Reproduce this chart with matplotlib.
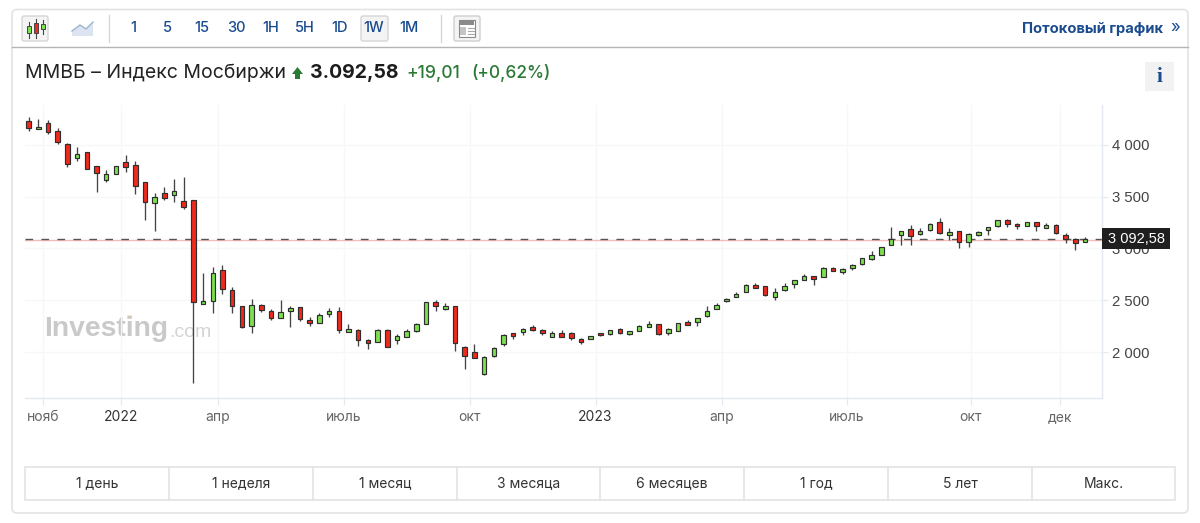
import matplotlib
matplotlib.use("Agg")
import matplotlib.pyplot as plt
from matplotlib.patches import Rectangle, FancyBboxPatch, Polygon

plt.rcParams["font.family"] = ["Inter", "DejaVu Sans"]

###############################################################################
# weekly candles
###############################################################################
opens = [4228, 4151, 4215, 4131, 4013, 3878, 3929, 3795, 3663, 3724,
         3833, 3811, 3641, 3439, 3535, 3519, 3455, 3465, 2465, 2490,
         2792, 2599, 2446, 2253, 2458, 2398, 2327, 2393, 2431, 2310,
         2284, 2369, 2395, 2196, 2216, 2121, 2101, 2216, 2114, 2150,
         2199, 2271, 2480, 2415, 2444, 2052, 1996, 1787, 1957, 2078,
         2180, 2189, 2238, 2216, 2150, 2180, 2180, 2130, 2127, 2186,
         2170, 2221, 2170, 2205, 2240, 2266, 2183, 2205, 2288, 2288,
         2346, 2420, 2490, 2535, 2583, 2647, 2635, 2535, 2596, 2657,
         2699, 2731, 2728, 2811, 2772, 2808, 2846, 2901, 2939, 3035,
         3128, 3192, 3141, 3176, 3253, 3128, 3170, 3058, 3128, 3180,
         3215, 3276, 3240, 3218, 3253, 3202, 3228, 3131, 3090, 3065]
closes = [4163, 4176, 4125, 4029, 3817, 3917, 3772, 3734, 3715, 3795,
          3785, 3606, 3452, 3500, 3487, 3551, 3404, 2481, 2494, 2763,
          2609, 2446, 2240, 2458, 2407, 2327, 2388, 2424, 2317, 2284,
          2359, 2399, 2216, 2225, 2117, 2088, 2216, 2052, 2153, 2202,
          2274, 2480, 2441, 2444, 2088, 1957, 1947, 1951, 2042, 2163,
          2153, 2225, 2212, 2186, 2180, 2150, 2137, 2101, 2153, 2160,
          2208, 2183, 2199, 2256, 2266, 2176, 2221, 2279, 2263, 2327,
          2397, 2458, 2516, 2564, 2647, 2622, 2548, 2577, 2635, 2692,
          2731, 2702, 2814, 2785, 2801, 2840, 2907, 2933, 3013, 3096,
          3167, 3122, 3173, 3240, 3147, 3157, 3061, 3144, 3160, 3205,
          3272, 3237, 3215, 3253, 3215, 3231, 3154, 3093, 3051, 3092.58]
highs = [4269, 4247, 4237, 4163, 4022, 3984, 3936, 3798, 3760, 3798,
         3901, 3843, 3647, 3532, 3593, 3667, 3689, 3468, 2763, 2821,
         2843, 2628, 2449, 2513, 2465, 2417, 2500, 2446, 2435, 2343,
         2379, 2425, 2431, 2271, 2222, 2130, 2222, 2222, 2170, 2225,
         2278, 2484, 2507, 2474, 2448, 2059, 2078, 1960, 2049, 2170,
         2186, 2229, 2258, 2222, 2199, 2209, 2189, 2137, 2157, 2186,
         2212, 2231, 2202, 2263, 2301, 2269, 2231, 2282, 2308, 2330,
         2442, 2474, 2526, 2583, 2654, 2667, 2641, 2619, 2667, 2699,
         2753, 2737, 2817, 2820, 2808, 2846, 2913, 2974, 3019, 3205,
         3173, 3228, 3196, 3244, 3295, 3202, 3173, 3147, 3167, 3212,
         3276, 3285, 3247, 3260, 3256, 3244, 3234, 3154, 3099, 3115]
lows = [4131, 4151, 4106, 4010, 3785, 3846, 3772, 3548, 3641, 3724,
        3740, 3522, 3276, 3170, 3465, 3452, 3385, 1702, 2465, 2375,
        2564, 2375, 2234, 2183, 2385, 2305, 2327, 2240, 2301, 2251,
        2278, 2336, 2180, 2193, 2055, 2032, 2095, 2049, 2081, 2147,
        2196, 2268, 2395, 2408, 2010, 1839, 1944, 1781, 1954, 2059,
        2130, 2166, 2206, 2166, 2147, 2147, 2117, 2081, 2124, 2157,
        2163, 2173, 2167, 2202, 2237, 2163, 2160, 2202, 2260, 2256,
        2343, 2417, 2487, 2532, 2580, 2615, 2542, 2506, 2593, 2622,
        2696, 2647, 2724, 2782, 2750, 2788, 2843, 2891, 2936, 3032,
        3038, 3029, 3128, 3173, 3138, 3083, 3003, 3016, 3125, 3131,
        3212, 3205, 3192, 3215, 3173, 3199, 3144, 3051, 2981, 3058]

lastPrice = 3092.58
yTicks = [2000, 2500, 3000, 3500, 4000]
yTickLabels = ["2 000", "2 500", "3 000", "3 500", "4 000"]
xTicks = [1.5, 9.5, 19.5, 32.5, 45.5, 58.5, 71.5, 84.4, 97.2, 106.4]
xTickLabels = ["нояб", "2022", "апр", "июль", "окт", "2023", "апр", "июль", "окт", "дек"]
resolutions = ["1", "5", "15", "30", "1H", "5H", "1D", "1W", "1M"]
resolutionX = [133, 167, 202, 236, 271, 305, 340, 374, 409]
ranges = ["1 день", "1 неделя", "1 месяц", "3 месяца", "6 месяцев", "1 год", "5 лет", "Макс."]
rangeEdges = [25, 169, 313, 457, 600, 744, 888, 1032, 1175]

BLUE = "#1a4b8f"
GREEN = "#2a7a35"
BORDER = "#e3e3e3"
GRIDC = "#f6f7f8"
AXISC = "#e4e8f0"

fig = plt.figure(figsize=(12, 5.23), dpi=100, facecolor="white")

###############################################################################
# page chrome, drawn in pixel coordinates
###############################################################################
bg = fig.add_axes([0, 0, 1, 1], zorder=0)
bg.set_xlim(0, 1200)
bg.set_ylim(523, 0)
bg.axis("off")

bg.add_patch(FancyBboxPatch((12, 9.5), 1176, 503.5, boxstyle="round,pad=0,rounding_size=5",
                            fc="white", ec=BORDER, lw=1.2))
bg.plot([12, 1188], [47, 47], color="#b5b5b5", lw=1.0)
bg.plot([109, 109], [15, 42], color="#d8d8d8", lw=1.0)
bg.plot([441, 441], [15, 42], color="#d8d8d8", lw=1.0)

# candle button
bg.add_patch(FancyBboxPatch((22, 16), 26, 25, boxstyle="round,pad=0,rounding_size=2",
                            fc="#f4f4f4", ec="#d5d5d5", lw=1.0))
for cx, top, bot, wt, wb, col in [(28.5, 26, 33, 22, 38, "#7de04e"), (36, 23, 33, 19, 38, "#f2281c"),
                                  (43, 24, 29, 20, 34, "#7de04e")]:
    bg.plot([cx, cx], [wt, wb], color="#444444", lw=0.8)
    bg.add_patch(Rectangle((cx - 2, top), 4, bot - top, fc=col, ec="#444444", lw=0.7, zorder=3))

# area button
bg.add_patch(Polygon([(72, 36), (72, 31), (80, 25), (86, 29), (93, 22), (93, 36)],
                     fc="#dbe4f0", ec="none"))
bg.plot([72, 80, 86, 93], [31, 25, 29, 22], color="#9db3cf", lw=1.0)

# resolution buttons
bg.add_patch(FancyBboxPatch((361, 16), 27, 25, boxstyle="round,pad=0,rounding_size=2",
                            fc="#f4f4f4", ec="#d5d5d5", lw=1.0))
for label, x in zip(resolutions, resolutionX):
    bg.text(x, 28.5, label, color=BLUE, fontsize=10.5, fontweight="medium", ha="center", va="center")

# news button
bg.add_patch(FancyBboxPatch((454, 16), 26, 25, boxstyle="round,pad=0,rounding_size=2",
                            fc="#f4f4f4", ec="#cfcfcf", lw=1.0))
bg.add_patch(Rectangle((459, 20), 16, 17, fc="white", ec="#8a8a8a", lw=0.8))
bg.add_patch(Rectangle((460, 21), 14, 4, fc="#8a8a8a", ec="none"))
bg.add_patch(Rectangle((460, 27), 6, 8, fc="#c4c4c4", ec="none"))
for ly in [28, 31, 34]:
    bg.plot([468, 474], [ly, ly], color="#a8a8a8", lw=0.8)

bg.text(1163, 28.5, "Потоковый график", color=BLUE, fontsize=10.6, fontweight="bold", ha="right", va="center")
bg.text(1175, 27.5, "»", color=BLUE, fontsize=12, ha="center", va="center")

# title row
bg.text(25, 73, "ММВБ – Индекс Мосбиржи", color="#222222", fontsize=14, ha="left", va="center")
bg.add_patch(Polygon([(292, 74), (297.5, 67), (303, 74), (300, 74), (300, 79), (295, 79), (295, 74)],
                     fc=GREEN, ec="none"))
bg.text(310, 73, "3.092,58", color="#1c1c1c", fontsize=14, fontweight="bold", ha="left", va="center")
bg.text(406, 73, "+19,01", color=GREEN, fontsize=12.6, fontweight="medium", ha="left", va="center")
bg.text(471, 73, "(+0,62%)", color=GREEN, fontsize=12.4, fontweight="medium", ha="left", va="center")

bg.add_patch(Rectangle((1145, 62), 29, 29, fc="#f2f2f2", ec="none"))
bg.text(1159.5, 76.5, "i", color=BLUE, fontsize=15, fontweight="bold", family="Liberation Serif",
        ha="center", va="center")

# range buttons
bg.add_patch(Rectangle((25, 467), 1150, 33, fc="white", ec=BORDER, lw=1.2))
for i, label in enumerate(ranges):
    if i > 0:
        bg.plot([rangeEdges[i]] * 2, [467, 500], color=BORDER, lw=1.2)
    mid = (rangeEdges[i] + rangeEdges[i + 1]) / 2
    bg.text(mid, 483.5, label, color="#333333", fontsize=10, ha="center", va="center")

# watermark sits under the candles
bg.text(44, 329.5, "Investing", color="#c9c9c9", fontsize=20.3, fontweight="bold",
        family="Liberation Sans", ha="left", va="center")
bg.add_patch(Rectangle((127, 315), 5, 4, fc="#fbe3c8", ec="none"))
bg.text(169, 332.5, ".com", color="#d4d4d4", fontsize=14, family="Liberation Sans", ha="left", va="center")

###############################################################################
# candles
###############################################################################
ax = fig.add_axes([25 / 1200, 1 - 398 / 523, 1077 / 1200, 293 / 523], zorder=1)
ax.patch.set_alpha(0)
ax.set_xlim(-0.38, 110.76)
ax.set_ylim(1556, 4386)

xVals = list(range(len(opens)))
ax.vlines(xVals, lows, highs, color="#444444", lw=0.95, zorder=3)
for x, o, c in zip(xVals, opens, closes):
    col = "#7de04e" if c >= o else "#f2281c"
    ax.bar(x, abs(c - o), bottom=min(o, c), width=0.47, color=col, edgecolor="#2e2e2e", linewidth=0.85, zorder=4)

# last price lines
ax.axhline(lastPrice - 8, color="#f7bcb8", lw=1.0, zorder=2)
ax.axhline(lastPrice, color="#555555", lw=1.0, linestyle=(0, (5.5, 6)), zorder=2)

ax.set_xticks(xTicks)
ax.set_xticklabels(xTickLabels)
ax.set_yticks(yTicks)
ax.set_yticklabels(yTickLabels, family="Liberation Sans")
ax.yaxis.tick_right()
ax.grid(True, color=GRIDC, lw=0.9, zorder=1)
ax.set_axisbelow(True)
ax.tick_params(axis="x", length=5, width=0.9, color=AXISC, labelsize=10, labelcolor="#666666", pad=3.5)
ax.tick_params(axis="y", length=4, width=0.9, color=AXISC, labelsize=10.7, labelcolor="#444444", pad=3)
for lab in ax.get_xticklabels():
    if lab.get_text() in ("2022", "2023"):
        lab.set_color("#333333")
for side in ["left", "top"]:
    ax.spines[side].set_visible(False)
for side in ["right", "bottom"]:
    ax.spines[side].set_color(AXISC)
    ax.spines[side].set_linewidth(1.0)

# last price tag
tag = fig.add_axes([0, 0, 1, 1], zorder=2)
tag.set_xlim(0, 1200)
tag.set_ylim(523, 0)
tag.axis("off")
tag.add_patch(Rectangle((1102, 227.5), 68, 21.5, fc="#1f1f1f", ec="none"))
tag.text(1137, 239, "3 092,58", color="white", fontsize=10.5, family="Liberation Sans", ha="center", va="center")

plt.savefig("out.png", dpi=100)
